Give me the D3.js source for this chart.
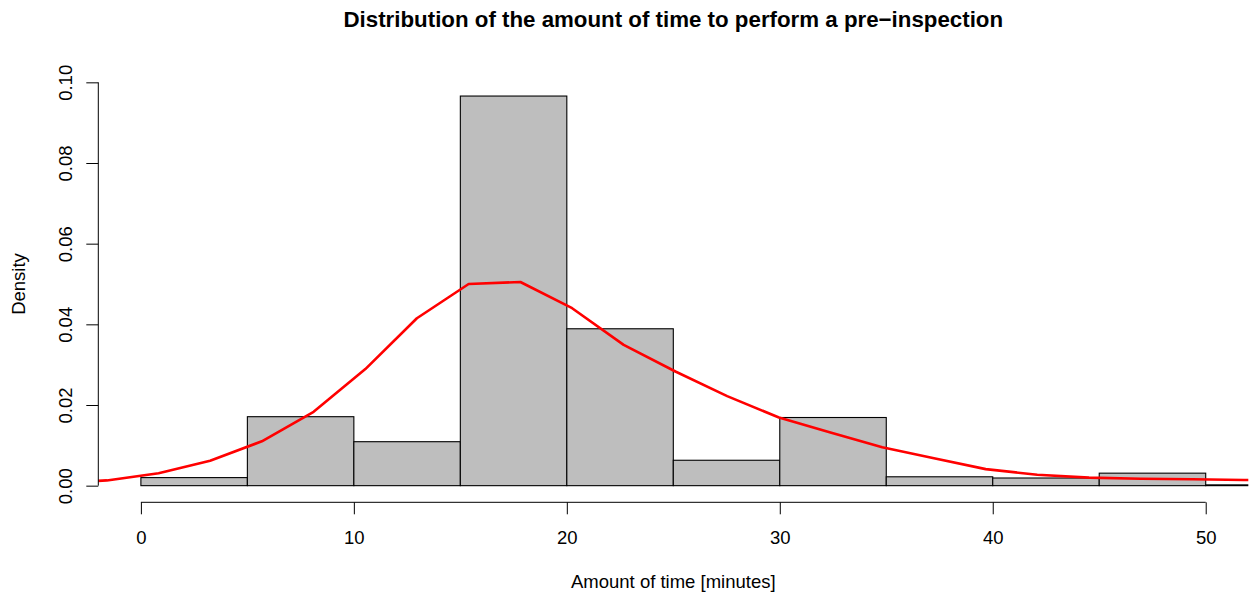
<!DOCTYPE html>
<html>
<head>
<meta charset="utf-8">
<script src="https://cdn.jsdelivr.net/npm/d3@7"></script>
<style>
  body { margin: 0; background: #fff; }
  svg { display: block; font-family: "Liberation Sans", Arial, sans-serif; }
</style>
</head>
<body>
<svg id="chart" width="1257" height="596"></svg>
<script>
// Histogram bins (minutes) and their densities
const binStart = [0, 5, 10, 15, 20, 25, 30, 35, 40, 45, 50];
const binEnd = [5, 10, 15, 20, 25, 30, 35, 40, 45, 50, 55];
const density = [0.0020, 0.0171, 0.0109, 0.0966, 0.0389, 0.0063, 0.0169, 0.0022, 0.0019, 0.0031, 0.0002];

// Red density curve
const curveX = [-4.03, -1.60, 0.83, 3.25, 5.68, 8.11, 10.54, 12.96, 15.39, 17.82, 20.25, 22.67,
  25.10, 27.53, 29.96, 32.38, 34.81, 37.24, 39.67, 42.09, 44.52, 46.95, 49.38, 51.80, 54.23];
const curveY = [0.0006, 0.0013, 0.0031, 0.0062, 0.0110, 0.0183, 0.0289, 0.0415, 0.0500, 0.0505, 0.0440, 0.0349,
  0.0283, 0.0222, 0.0169, 0.0132, 0.0095, 0.0068, 0.0041, 0.0027, 0.0020, 0.0017, 0.0016, 0.0014, 0.0013];

const xTicks = [0, 10, 20, 30, 40, 50];
const yTicks = [0, 0.02, 0.04, 0.06, 0.08, 0.10];

const svg = d3.select("#chart");

// plot region (R pads the limits by 4%)
const x = d3.scaleLinear().domain([-2, 52]).range([98.3, 1248.3]);
const y = d3.scaleLinear().domain([-0.004, 0.104]).range([501.8, 66.2]);

svg.append("clipPath").attr("id", "plotclip")
  .append("rect")
  .attr("x", x(-2)).attr("y", y(0.104))
  .attr("width", x(52) - x(-2)).attr("height", y(-0.004) - y(0.104));

const plot = svg.append("g").attr("clip-path", "url(#plotclip)");

// Bars
plot.selectAll("rect.bar")
  .data(density)
  .enter()
  .append("rect")
  .attr("class", "bar")
  .attr("x", (d, i) => x(binStart[i]))
  .attr("width", (d, i) => x(binEnd[i]) - x(binStart[i]))
  .attr("y", (d) => y(d))
  .attr("height", (d) => y(0) - y(d))
  .attr("fill", "#bebebe")
  .attr("stroke", "#000")
  .attr("stroke-width", 1.1);

// Density line
const line = d3.line()
  .x((d, i) => x(curveX[i]))
  .y((d) => y(d));

plot.append("path")
  .datum(curveY)
  .attr("d", line)
  .attr("fill", "none")
  .attr("stroke", "#ff0000")
  .attr("stroke-width", 2.6)
  .attr("stroke-linejoin", "round");

// X axis
const xAxis = svg.append("g")
  .attr("transform", `translate(0,${y(-0.004) + 0.5})`)
  .call(d3.axisBottom(x).tickValues(xTicks).tickSize(12).tickSizeOuter(0));
xAxis.select(".domain").remove();
xAxis.append("line")
  .attr("x1", x(0)).attr("x2", x(50))
  .attr("stroke", "#000");
xAxis.selectAll(".tick line").attr("stroke", "#000");
xAxis.selectAll(".tick text")
  .attr("y", 41.7)
  .attr("dy", 0)
  .attr("fill", "#000")
  .style("font-size", "18.5px")
  .style("font-family", "Liberation Sans, Arial, sans-serif");

// Y axis
const yAxis = svg.append("g")
  .attr("transform", `translate(${x(-2)},0)`)
  .call(d3.axisLeft(y).tickValues(yTicks).tickSize(12).tickSizeOuter(0).tickFormat(d3.format(".2f")));
yAxis.select(".domain").remove();
yAxis.append("line")
  .attr("y1", y(0)).attr("y2", y(0.1))
  .attr("stroke", "#000");
yAxis.selectAll(".tick line").attr("stroke", "#000");
yAxis.selectAll(".tick text")
  .attr("x", null)
  .attr("dy", 0)
  .attr("text-anchor", "middle")
  .attr("transform", "translate(-26.6,0) rotate(-90)")
  .attr("fill", "#000")
  .style("font-size", "18.5px")
  .style("font-family", "Liberation Sans, Arial, sans-serif");

// Titles
svg.append("text")
  .attr("x", (x(-2) + x(52)) / 2)
  .attr("y", 27)
  .attr("text-anchor", "middle")
  .style("font-size", "22.3px")
  .style("font-weight", "bold")
  .text("Distribution of the amount of time to perform a pre\u2212inspection");

svg.append("text")
  .attr("x", (x(-2) + x(52)) / 2)
  .attr("y", 588)
  .attr("text-anchor", "middle")
  .style("font-size", "18.5px")
  .text("Amount of time [minutes]");

svg.append("text")
  .attr("transform", `translate(25,${(y(-0.004) + y(0.104)) / 2}) rotate(-90)`)
  .attr("text-anchor", "middle")
  .style("font-size", "18.5px")
  .text("Density");
</script>
</body>
</html>
